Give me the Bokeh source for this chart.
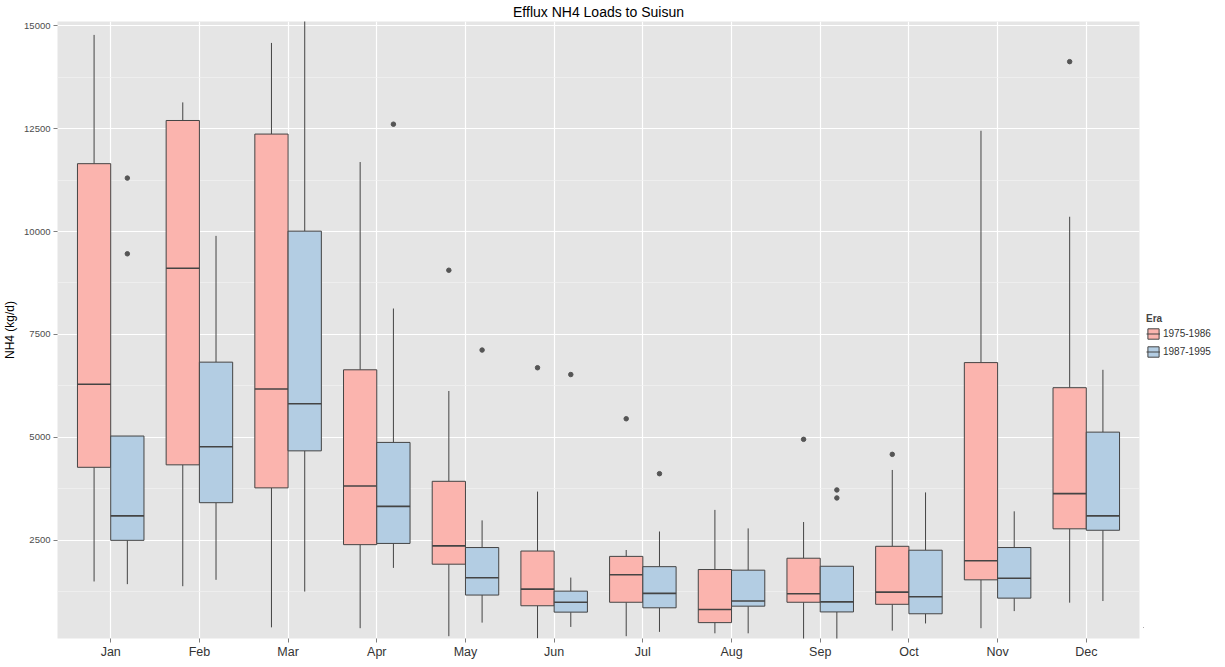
from bokeh.plotting import figure
from bokeh.layouts import row
from bokeh.models import Range1d, FixedTicker, Legend, LegendItem, ColumnDataSource
from bokeh.embed import file_html
from bokeh.resources import INLINE

months = ["Jan", "Feb", "Mar", "Apr", "May", "Jun", "Jul", "Aug", "Sep", "Oct", "Nov", "Dec"]
eras = ["1975-1986", "1987-1995"]

# Era 1975-1986
e1_low = [1495, 1380, 380, 360, 165, 115, 165, 235, 80, 300, 360, 980]
e1_q1 = [4270, 4330, 3770, 2390, 1915, 905, 990, 495, 990, 940, 1535, 2775]
e1_med = [6290, 9110, 6175, 3815, 2360, 1310, 1660, 815, 1195, 1235, 2000, 3630]
e1_q3 = [11650, 12700, 12370, 6640, 3930, 2235, 2105, 1785, 2060, 2350, 6815, 6205]
e1_high = [14780, 13140, 14585, 11690, 6125, 3680, 2260, 3235, 2940, 4205, 12450, 10360]
e1_out_month = ["May", "Jun", "Jul", "Sep", "Oct", "Dec"]
e1_out_value = [9060, 6690, 5450, 4950, 4585, 14130]

# Era 1987-1995
e2_low = [1430, 1535, 1250, 1825, 495, 390, 270, 235, 80, 475, 775, 1020]
e2_q1 = [2495, 3410, 4670, 2420, 1165, 750, 855, 895, 755, 710, 1090, 2740]
e2_med = [3090, 4770, 5815, 3320, 1585, 990, 1205, 1020, 1000, 1125, 1575, 3090]
e2_q3 = [5030, 6826, 10010, 4875, 2320, 1260, 1855, 1770, 1865, 2255, 2320, 5125]
e2_high = [5030, 9895, 15600, 8130, 2980, 1590, 2710, 2785, 1865, 3660, 3200, 6640]
e2_out_month = ["Jan", "Jan", "Apr", "May", "Jun", "Jul", "Sep", "Sep"]
e2_out_value = [11300, 9460, 12610, 7120, 6525, 4115, 3720, 3525]

y_ticks = [2500, 5000, 7500, 10000, 12500, 15000]
y_tick_labels = ["2500", "5000", "7500", "10000", "12500", "15000"]
y_minor = [1250, 3750, 6250, 8750, 11250, 13750]

FONT = "Liberation Sans"
fills = ["#FBB4AE", "#B3CDE3"]
edge = "#444444"
box_w = 0.375

p = figure(frame_width=1082, frame_height=617, x_range=Range1d(0.4, 12.6), y_range=Range1d(109, 15106),
           output_backend="svg", toolbar_location=None, title="Efflux NH4 Loads to Suisun",
           min_border_left=52, min_border_top=0, min_border_bottom=0, min_border_right=4)
p.background_fill_color = "#E5E5E5"
p.border_fill_color = "white"
p.outline_line_color = None

p.title.align = "center"
p.title.text_font = FONT
p.title.text_font_size = "14px"
p.title.text_font_style = "normal"
p.title.text_color = "black"
p.title.standoff = 3
p.title.offset = 0

# axes
xt = FixedTicker(ticks=list(range(1, 13)))
p.xaxis.ticker = xt
p.xaxis.major_label_overrides = {i + 1: m for i, m in enumerate(months)}
yt = FixedTicker(ticks=y_ticks, minor_ticks=y_minor)
p.yaxis.ticker = yt
p.yaxis.major_label_overrides = {t: l for t, l in zip(y_ticks, y_tick_labels)}
p.yaxis.axis_label = "NH4 (kg/d)"

for ax in (p.xaxis[0], p.yaxis[0]):
    ax.axis_line_color = None
    ax.major_tick_line_color = "#7f7f7f"
    ax.major_tick_out = 4
    ax.major_tick_in = 0
    ax.minor_tick_line_color = None
    ax.major_label_text_font = FONT
    ax.major_label_text_color = "#4d4d4d"
    ax.major_label_standoff = 3
    ax.axis_label_text_font = FONT
    ax.axis_label_text_font_style = "normal"
    ax.axis_label_text_color = "black"
    ax.axis_label_text_font_size = "12px"
    ax.axis_label_standoff = 4
p.xaxis.major_label_text_font_size = "12.5px"
p.xaxis.major_label_text_color = "#333333"
p.xaxis.major_label_standoff = 2
p.yaxis.major_label_text_font_size = "9.5px"

p.xgrid.ticker = xt
p.xgrid.grid_line_color = "white"
p.xgrid.grid_line_width = 1.2
p.ygrid.ticker = yt
p.ygrid.grid_line_color = "white"
p.ygrid.grid_line_width = 1.2
p.ygrid.minor_grid_line_color = "#F2F2F2"
p.ygrid.minor_grid_line_width = 0.7

series = [
    (e1_low, e1_q1, e1_med, e1_q3, e1_high, e1_out_month, e1_out_value, -box_w / 2),
    (e2_low, e2_q1, e2_med, e2_q3, e2_high, e2_out_month, e2_out_value, box_w / 2),
]

for k, (lo, q1, md, q3, hi, om, ov, off) in enumerate(series):
    xs = [i + 1 + off for i in range(len(months))]
    src = ColumnDataSource(dict(x=xs, lo=lo, q1=q1, md=md, q3=q3, hi=hi,
                                xl=[x - box_w / 2 for x in xs], xr=[x + box_w / 2 for x in xs]))
    p.segment(x0="x", y0="lo", x1="x", y1="q1", source=src, line_color=edge, line_width=1)
    p.segment(x0="x", y0="q3", x1="x", y1="hi", source=src, line_color=edge, line_width=1)
    p.vbar(x="x", width=box_w, bottom="q1", top="q3", source=src,
           fill_color=fills[k], line_color=edge, line_width=1)
    p.segment(x0="xl", y0="md", x1="xr", y1="md", source=src, line_color=edge, line_width=1.6)
    ox = [months.index(m) + 1 + off for m in om]
    p.scatter(ox, ov, size=4.5, color="#555555")

# legend panel as a separate small figure (key renderers sit outside its visible range)
LH = 650
lf = figure(width=70, height=LH, x_range=Range1d(0, 1), y_range=Range1d(0, 1),
            x_axis_type=None, y_axis_type=None, output_backend="svg", toolbar_location=None,
            min_border_left=0, min_border_right=0, min_border_top=0, min_border_bottom=0)
lf.outline_line_color = None
lf.grid.visible = False
lf.background_fill_color = "white"
lf.border_fill_color = "white"
items = []
for k in range(2):
    key_src = ColumnDataSource(dict(x=[-5], b=[-5], t=[-4], x0=[-5], x1=[-4], y=[-5]))
    bx = lf.vbar(x="x", width=0.1, bottom="b", top="t", source=key_src,
                 fill_color=fills[k], line_color=edge, line_width=1)
    md = lf.segment(x0="x0", y0="y", x1="x1", y1="y", source=key_src, line_color=edge, line_width=1)
    items.append(LegendItem(label=eras[k], renderers=[bx, md]))

legend = Legend(items=items, title="Era", location=(3, LH - 381))
legend.title_text_font = FONT
legend.title_text_font_style = "bold"
legend.title_text_font_size = "10px"
legend.label_text_font = FONT
legend.label_text_font_size = "10px"
legend.label_text_color = "#333333"
legend.glyph_width = 14
legend.glyph_height = 13
legend.label_standoff = 3
legend.label_height = 13
legend.label_width = 10
legend.padding = 0
legend.margin = 0
legend.spacing = 5
legend.border_line_color = None
legend.background_fill_color = "white"
legend.title_standoff = 3
lf.add_layout(legend)

layout = row(p, lf)
open("out.html", "w").write(file_html(layout, INLINE))
